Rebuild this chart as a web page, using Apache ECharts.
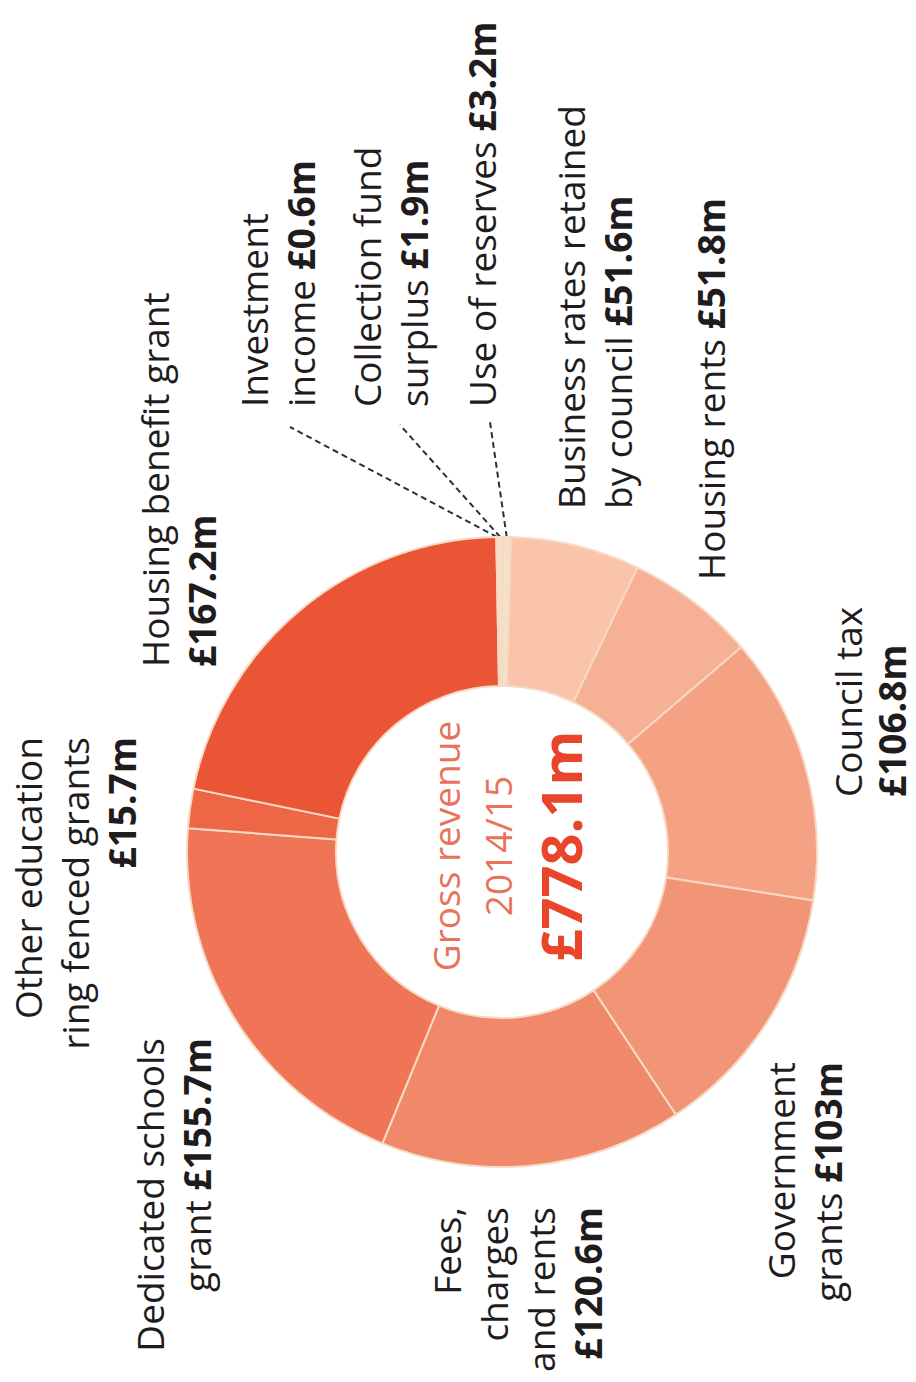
<!DOCTYPE html>
<html><head><meta charset="utf-8">
<script src="https://cdn.jsdelivr.net/npm/echarts@6/dist/echarts.min.js"></script>
<style>
html,body{margin:0;padding:0;background:#fff;width:916px;height:1382px;overflow:hidden}
#chart{position:absolute;left:0;top:1382px;width:1382px;height:916px;transform-origin:0 0;transform:rotate(-90deg)}
</style></head><body><div id="chart"></div>
<script>
// ---- data ----
const categories = ['Business rates retained by council','Housing rents','Council tax','Government grants','Fees, charges and rents','Dedicated schools grant','Other education ring fenced grants','Housing benefit grant','Investment income','Collection fund surplus','Use of reserves'];
const values = [51.6, 51.8, 106.8, 103, 120.6, 155.7, 15.7, 167.2, 0.6, 1.9, 3.2];
const labelText = ['Business rates retained\nby council ','Housing rents ','Council tax\n','Government\ngrants ','Fees,\ncharges\nand rents\n','Dedicated schools\ngrant ','Other education\nring fenced grants\n','Housing benefit grant\n','Investment\nincome ','Collection fund\nsurplus ','Use of reserves '];
const centerLines = ['Gross revenue','2014/15','£778.1m'];

// ---- styles / layout (chart drawn in unrotated frame, page rotates it) ----
const colors = ['#f9c4aa','#f6b095','#f4a184','#f29577','#f0896a','#ef7556','#ed6645','#ea5535','#f4e2c8','#f4e2c8','#f4e2c8'];
const labelPos = [
  {align:'left', x:873, y:569},
  {align:'left', x:802, y:709},
  {align:'left', x:585, y:846, lh:44},
  {align:'right', x:320, y:779},
  {align:'right', x:175, y:445},
  {align:'right', x:344, y:148},
  {align:'right', x:645, y:26},
  {align:'left', x:715, y:153},
  {align:'left', x:975, y:252, line:[955,290]},
  {align:'left', x:975, y:365, line:[957,400]},
  {align:'left', x:975, y:480, line:[960,490]}
];
const FONT = '"Open Sans", "Noto Sans", sans-serif';
const TEXT_COLOR = '#1e1c1d';

const chart = echarts.init(document.getElementById('chart'), null, {renderer:'svg', width:1382, height:916});
const data = categories.map((c,i)=>{
  const lh = labelPos[i].lh || 47;
  return {
    name:c, value:values[i],
    itemStyle:{color:colors[i]},
    label:{lineHeight:lh, rich:{v:{fontFamily:FONT, fontSize:37, lineHeight:lh, fontWeight:'bold', color:TEXT_COLOR}}},
    labelLine:{show: !!labelPos[i].line}
  };
});
chart.setOption({
  animation:false,
  backgroundColor:'#ffffff',
  series:[{
    type:'pie',
    center:[530,502],
    radius:[166,315],
    startAngle:-1.6,
    clockwise:true,
    avoidLabelOverlap:false,
    silent:true,
    emphasis:{disabled:true},
    itemStyle:{borderColor:'#f7d9c4', borderWidth:2},
    label:{
      show:true, position:'outside',
      fontFamily:FONT, fontSize:37, lineHeight:47, color:TEXT_COLOR,
      formatter:(p)=> labelText[p.dataIndex] + '{v|£' + p.value + 'm}',
      rich:{v:{fontFamily:FONT, fontSize:37, lineHeight:47, fontWeight:'bold', color:TEXT_COLOR}}
    },
    labelLine:{show:false, lineStyle:{color:'#23323f', width:2, type:[6,4]}},
    labelLayout:(params)=>{
      const p = labelPos[params.dataIndex];
      const lh = p.lh || 47;
      const r = {x:p.x, y:p.y - lh/2 + 1.5, align:p.align, verticalAlign:'top'};
      if (p.line && params.labelLinePoints) {
        const s = params.labelLinePoints[0];
        r.labelLinePoints = [s, [(s[0]+p.line[0])/2,(s[1]+p.line[1])/2], p.line];
      }
      return r;
    },
    data:data
  }],
  graphic:[
    {type:'text', x:536, y:445, silent:true, style:{text:centerLines[0], fill:'#e8735a', font:'37px '+FONT, textAlign:'center', textVerticalAlign:'middle'}},
    {type:'text', x:536, y:497, silent:true, style:{text:centerLines[1], fill:'#e8735a', font:'37px '+FONT, textAlign:'center', textVerticalAlign:'middle'}},
    {type:'text', x:536, y:560, silent:true, style:{text:centerLines[2], fill:'#e8452b', font:'bold 56px '+FONT, textAlign:'center', textVerticalAlign:'middle'}}
  ]
});
</script></body></html>
